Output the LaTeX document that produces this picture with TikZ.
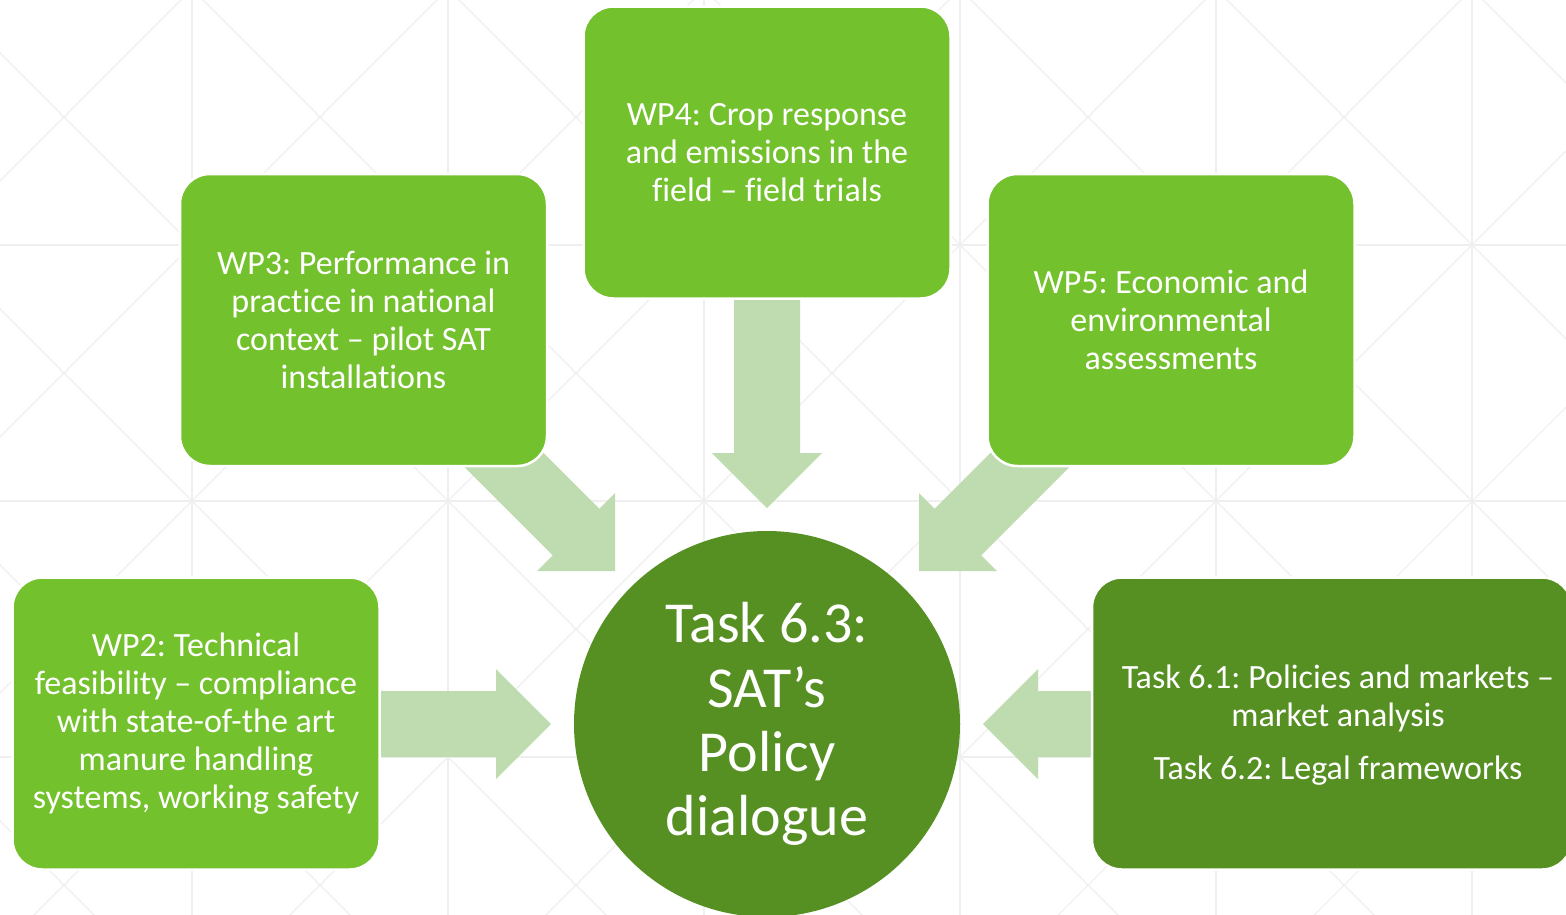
\documentclass[tikz,border=0pt]{standalone}
\usepackage{fontspec}
\setmainfont{Carlito}[Ligatures={NoCommon}]
\usetikzlibrary{calc}
\definecolor{boxgreen}{HTML}{74C12E}
\definecolor{darkgreen}{HTML}{568F22}
\definecolor{arrowgreen}{HTML}{BEDCAF}
\definecolor{gridgray}{HTML}{EFEFEF}
\newcommand\blockarrow[2]{%
  \path ($(#2)!55pt!(#1)$) coordinate (ah);
  \fill[arrowgreen] ($(#1)!33pt!90:(#2)$) -- ($(ah)!33pt!90:(#2)$) -- ($(ah)!55pt!90:(#2)$)
    -- (#2) -- ($(ah)!55pt!-90:(#2)$) -- ($(ah)!33pt!-90:(#2)$) -- ($(#1)!33pt!-90:(#2)$) -- cycle;
}
\frenchspacing
\begin{document}
\begin{tikzpicture}[x=1pt,y=-1pt,
  gridline/.style={draw=gridgray, line width=1.1pt},
  wpbox/.style={rectangle, rounded corners=30pt, fill=boxgreen, draw=white, line width=2.5pt,
    minimum width=367pt, minimum height=292pt, inner sep=0pt, text=white, align=center,
    font=\fontsize{34}{38}\selectfont},
  taskbox/.style={wpbox, fill=darkgreen, minimum width=480pt},
  hubnode/.style={circle, fill=darkgreen, minimum size=386pt, inner sep=0pt, text=white,
    align=center, font=\fontsize{58}{64.3}\selectfont}]
\useasboundingbox (0,0) rectangle (1566,914);
\clip (0,0) rectangle (1566,914);
\fill[white] (0,0) rectangle (1566,914);
% background lattice
\foreach \k in {-1,...,5} \draw[gridline] (192+256*\k,-20) -- (192+256*\k,934);
\foreach \k in {0,...,4} \draw[gridline] (-20,-11+256*\k) -- (1586,-11+256*\k);
\foreach \k in {-5,...,7} \draw[gridline] (203+256*\k-1000,-1000) -- (203+256*\k+2000,2000);
\foreach \k in {0,...,10} \draw[gridline] (181+256*\k+1000,-1000) -- (181+256*\k-2000,2000);
% arrow end points
\coordinate (topS) at (767,300);   \coordinate (topT) at (767,508);
\coordinate (leftS) at (380,724);  \coordinate (leftT) at (551,724);
\coordinate (rightS) at (1092,724);\coordinate (rightT) at (983,724);
\coordinate (nwS) at (440,396);    \coordinate (nwT) at (615,571);
\coordinate (neS) at (1094,396);   \coordinate (neT) at (919,571);
\blockarrow{topS}{topT}
\blockarrow{leftS}{leftT}
\blockarrow{rightS}{rightT}
\blockarrow{nwS}{nwT}
\blockarrow{neS}{neT}
% boxes
\node[wpbox] (wp4) at (767,152.5) {WP4: Crop response\\and emissions in the\\field – field trials};
\node[wpbox] (wp3) at (363.5,320) {WP3: Performance in\\practice in national\\context – pilot SAT\\installations};
\node[wpbox] (wp5) at (1171,320) {WP5: Economic and\\environmental\\assessments};
\node[wpbox] (wp2) at (196,723.5) {WP2: Technical\\feasibility – compliance\\with state-of-the art\\manure handling\\systems, working safety};
\node[taskbox] (task) at (1332,723.5) {};
\node[text=white, align=center, font=\fontsize{34}{38}\selectfont] (tasktext) at (1338,725)
  {Task 6.1: Policies and markets –\\market analysis\\[15pt]Task 6.2: Legal frameworks};
\node[hubnode] (hub) at (767,724) {Task 6.3:\\SAT’s\\Policy\\dialogue};
\end{tikzpicture}
\end{document}
